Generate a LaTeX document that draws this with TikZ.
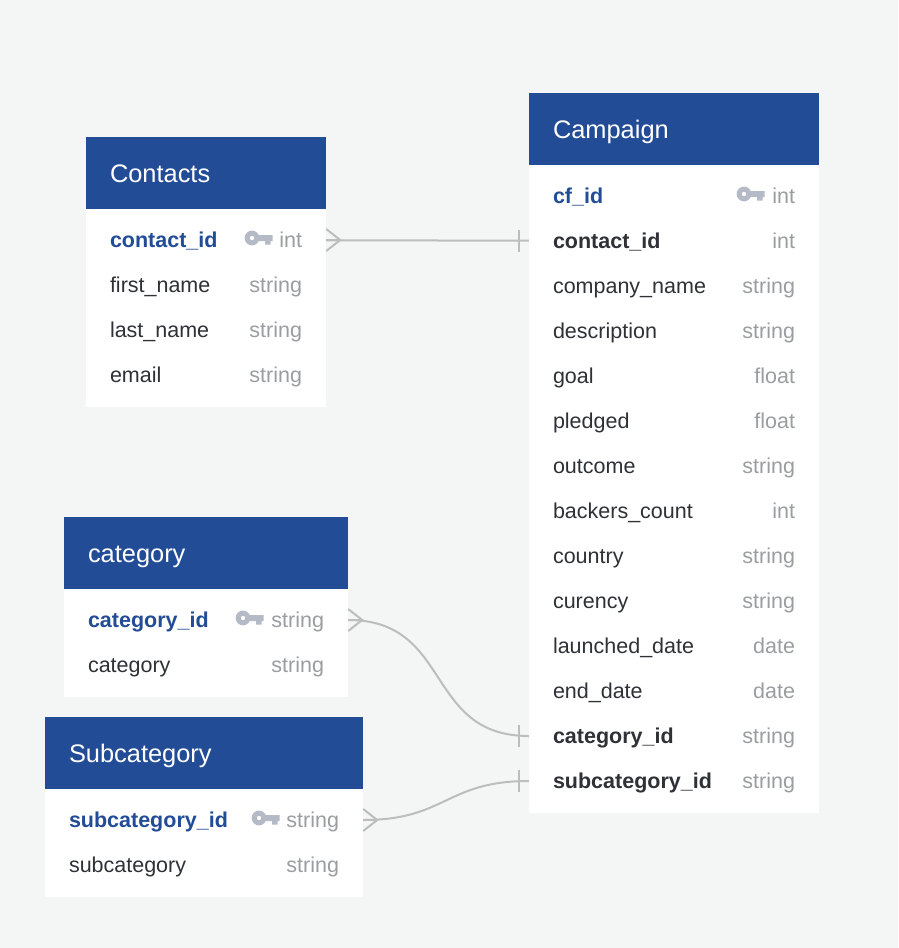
\documentclass[tikz,border=0pt]{standalone}
\usepackage{fontspec}
\setmainfont{Liberation Sans}
\definecolor{pagebg}{HTML}{F4F6F5}
\definecolor{headblue}{HTML}{234C96}
\definecolor{keygrey}{HTML}{B5BBC6}
\definecolor{rowtext}{HTML}{2E3135}
\definecolor{typegrey}{HTML}{9B9DA0}
\definecolor{linkgrey}{HTML}{BCBDBC}
\tikzset{
  tablehead/.style={fill=headblue, text=white, font=\fontsize{25.4}{28}\selectfont, minimum height=72pt, inner xsep=24pt, inner ysep=0pt, text height=18pt, text depth=0pt},
  tablebody/.style={fill=white, inner sep=0pt},
  rowbox/.style={text width=#1, inner xsep=24pt, inner ysep=0pt, minimum height=45pt, text height=15pt, text depth=1pt, font=\fontsize{21.5}{25}\selectfont, text=rowtext},
  link/.style={draw=linkgrey, line width=2pt},
  keyicon/.pic={
    \fill[keygrey, even odd rule] (0,0) circle (7.4) (0,0) circle (2.3);
    \fill[keygrey] (5,-3) -- (20.5,-3) -- (20.5,3) -- (18.5,3) -- (18.5,6.5) -- (13,6.5) -- (13,3) -- (5,3) -- cycle;
  },
}
\newcommand{\crowfoot}[1]{%
  \draw[link] (#1.east) ++(0,-11) -- ++(14,11) -- ++(-14,11);
  \draw[link] (#1.east) -- ++(14,0);
}
\newcommand{\onebar}[1]{%
  \draw[link] (#1.west) ++(-10,-11) -- ++(0,22);
}
\begin{document}
\begin{tikzpicture}[x=1pt,y=-1pt,node distance=45pt]
  \fill[pagebg] (0,0) rectangle (898,948);

  % contacts
  \node (contactsbody) [tablebody, minimum width=240pt, minimum height=198pt] at (206,308) {};
  \node (contactshead) [tablehead, text width=192pt] at (206,173) {Contacts};
  \node (contactid) [rowbox=192pt] at (206,240) {\textcolor{headblue}{\bfseries contact\_id}\hfill\textcolor{typegrey}{int}};
  \node (firstname) [rowbox=192pt, below of=contactid] {first\_name\hfill\textcolor{typegrey}{string}};
  \node (lastname) [rowbox=192pt, below of=firstname] {last\_name\hfill\textcolor{typegrey}{string}};
  \node (email) [rowbox=192pt, below of=lastname] {email\hfill\textcolor{typegrey}{string}};
  \pic at (252,238) {keyicon};

  % campaign
  \node (campaignbody) [tablebody, minimum width=290pt, minimum height=648pt] at (674,489) {};
  \node (campaignhead) [tablehead, text width=242pt] at (674,129) {Campaign};
  \node (cfid) [rowbox=242pt] at (674,196) {\textcolor{headblue}{\bfseries cf\_id}\hfill\textcolor{typegrey}{int}};
  \node (fkcontact) [rowbox=242pt, below of=cfid] {\textbf{contact\_id}\hfill\textcolor{typegrey}{int}};
  \node (company) [rowbox=242pt, below of=fkcontact] {company\_name\hfill\textcolor{typegrey}{string}};
  \node (description) [rowbox=242pt, below of=company] {description\hfill\textcolor{typegrey}{string}};
  \node (goal) [rowbox=242pt, below of=description] {goal\hfill\textcolor{typegrey}{float}};
  \node (pledged) [rowbox=242pt, below of=goal] {pledged\hfill\textcolor{typegrey}{float}};
  \node (outcome) [rowbox=242pt, below of=pledged] {outcome\hfill\textcolor{typegrey}{string}};
  \node (backers) [rowbox=242pt, below of=outcome] {backers\_count\hfill\textcolor{typegrey}{int}};
  \node (country) [rowbox=242pt, below of=backers] {country\hfill\textcolor{typegrey}{string}};
  \node (curency) [rowbox=242pt, below of=country] {curency\hfill\textcolor{typegrey}{string}};
  \node (launched) [rowbox=242pt, below of=curency] {launched\_date\hfill\textcolor{typegrey}{date}};
  \node (enddate) [rowbox=242pt, below of=launched] {end\_date\hfill\textcolor{typegrey}{date}};
  \node (fkcategory) [rowbox=242pt, below of=enddate] {\textbf{category\_id}\hfill\textcolor{typegrey}{string}};
  \node (fksubcategory) [rowbox=242pt, below of=fkcategory] {\textbf{subcategory\_id}\hfill\textcolor{typegrey}{string}};
  \pic at (744,194) {keyicon};

  % category
  \node (categorybody) [tablebody, minimum width=284pt, minimum height=108pt] at (206,643) {};
  \node (categoryhead) [tablehead, text width=236pt] at (206,553) {category};
  \node (categoryid) [rowbox=236pt] at (206,620) {\textcolor{headblue}{\bfseries category\_id}\hfill\textcolor{typegrey}{string}};
  \node (categoryname) [rowbox=236pt, below of=categoryid] {category\hfill\textcolor{typegrey}{string}};
  \pic at (243,618) {keyicon};

  % subcategory
  \node (subcategorybody) [tablebody, minimum width=318pt, minimum height=108pt] at (204,843) {};
  \node (subcategoryhead) [tablehead, text width=270pt] at (204,753) {Subcategory};
  \node (subcategoryid) [rowbox=270pt] at (204,820) {\textcolor{headblue}{\bfseries subcategory\_id}\hfill\textcolor{typegrey}{string}};
  \node (subcategoryname) [rowbox=270pt, below of=subcategoryid] {subcategory\hfill\textcolor{typegrey}{string}};
  \pic at (259,818) {keyicon};

  % links
  \draw[link] (contactid) -- (fkcontact);
  \draw[link] (categoryid.east) to [out=0,in=180,looseness=1.25] (fkcategory.west);
  \draw[link] (subcategoryid.east) to [out=0,in=180,looseness=1.25] (fksubcategory.west);
  \crowfoot{contactid}
  \crowfoot{categoryid}
  \crowfoot{subcategoryid}
  \onebar{fkcontact}
  \onebar{fkcategory}
  \onebar{fksubcategory}
\end{tikzpicture}
\end{document}
